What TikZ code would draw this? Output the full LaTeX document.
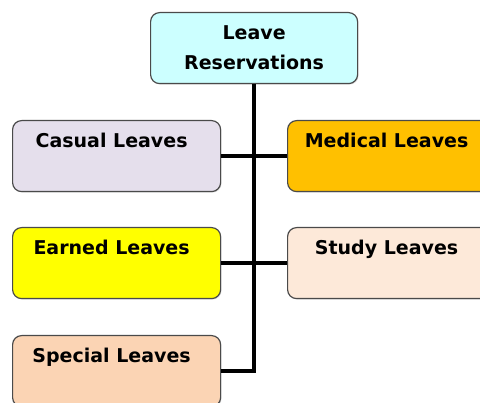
\documentclass[tikz,border=0pt]{standalone}
\usepackage{fontspec}
\setmainfont{DejaVu Sans}
\usetikzlibrary{shadows}
\definecolor{topc}{HTML}{CCFFFF}
\definecolor{casc}{HTML}{E5DFEC}
\definecolor{medc}{HTML}{FFC000}
\definecolor{earc}{HTML}{FFFF00}
\definecolor{stuc}{HTML}{FDE9D9}
\definecolor{spec}{HTML}{FBD4B4}
\definecolor{edge}{HTML}{4A4A4A}
\newcommand{\lefttext}[1]{#1\kern10pt}
\tikzset{
  basebox/.style={draw=edge, line width=1.2pt, rounded corners=9pt, anchor=north west,
    inner sep=0pt, font=\bfseries\fontsize{19}{30}\selectfont,
    drop shadow={shadow xshift=1pt, shadow yshift=-1pt, opacity=0.25}},
  leafbox/.style={basebox, minimum width=208pt, text height=27pt, text depth=44pt},
  conn/.style={line width=4.5pt, black}
}
\begin{document}
\begin{tikzpicture}[x=1pt,y=-1pt]
\useasboundingbox (0,0) rectangle (480,403);
\clip (0,0) rectangle (480,403);
\node[basebox, fill=topc, minimum width=207pt, minimum height=71pt, align=center] (top) at (150,12) {Leave\\Reservations};
\node[leafbox, fill=casc] (casual) at (12,120) {\lefttext{Casual Leaves}};
\node[leafbox, fill=medc] (medical) at (287,120) {\lefttext{Medical Leaves}};
\node[leafbox, fill=earc] (earned) at (12,227) {\lefttext{Earned Leaves}};
\node[leafbox, fill=stuc] (study) at (287,227) {\lefttext{Study Leaves}};
\node[leafbox, fill=spec] (special) at (12,335) {\lefttext{Special Leaves}};
\draw[conn] (top.south) |- (special.east);
\draw[conn] (casual.east) -- (medical.west);
\draw[conn] (earned.east) -- (study.west);
\end{tikzpicture}
\end{document}
